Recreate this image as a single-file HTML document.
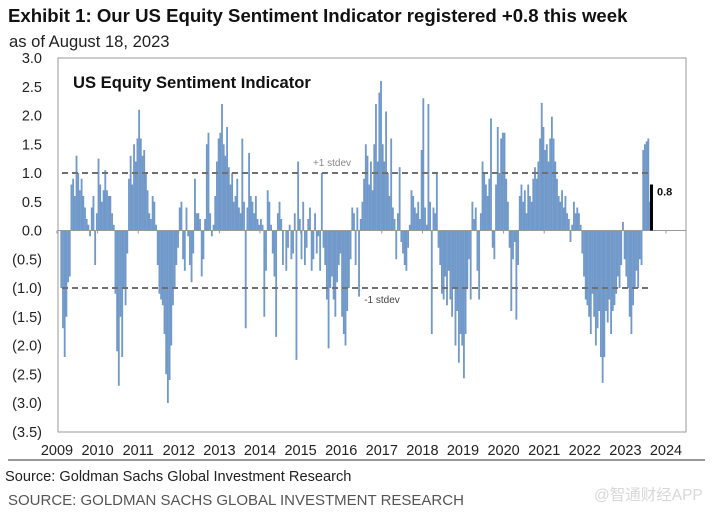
<!DOCTYPE html>
<html><head><meta charset="utf-8">
<style>
html,body{margin:0;padding:0;background:#fff;width:712px;height:513px;overflow:hidden}
svg{display:block;font-family:"Liberation Sans",Arial,sans-serif}
</style></head>
<body>
<svg id="chart" width="712" height="513" viewBox="0 0 712 513">
<text x="8" y="22" font-size="18.6" font-weight="bold" fill="#111">Exhibit 1: Our US Equity Sentiment Indicator registered +0.8 this week</text>
<text x="9" y="47" font-size="16.6" fill="#222">as of August 18, 2023</text>
<rect x="58" y="58" width="628" height="374" fill="#fff" stroke="#999" stroke-width="1"/>
<text x="73" y="88" font-size="16.6" font-weight="bold" fill="#111">US Equity Sentiment Indicator</text>
<g id="yticks"></g>
<g id="xticks"></g>
<g id="bars"></g>
<g id="refs"></g>
<line x1="8" y1="460" x2="705" y2="460" stroke="#999" stroke-width="2"/>
<text x="5" y="481" font-size="14.6" fill="#222">Source: Goldman Sachs Global Investment Research</text>
<text x="8" y="505" font-size="15" fill="#555">SOURCE: GOLDMAN SACHS GLOBAL INVESTMENT RESEARCH</text>
<text x="594" y="500" font-size="15.5" fill="#d8d8d8" font-family="'Liberation Sans','Noto Sans CJK SC',sans-serif">@智通财经APP</text>
</svg>
<script>
const yTickValues=[3,2.5,2,1.5,1,0.5,0,-0.5,-1,-1.5,-2,-2.5,-3,-3.5];
const yTickLabels=["3.0","2.5","2.0","1.5","1.0","0.5","0.0","(0.5)","(1.0)","(1.5)","(2.0)","(2.5)","(3.0)","(3.5)"];
const xYears=[2009,2010,2011,2012,2013,2014,2015,2016,2017,2018,2019,2020,2021,2022,2023,2024];
const v2009=[0,0,-1.0,-1.7,-2.2,-1.5,-0.9,-0.8,0.8,0.9,0.6,1.3,1.0,0.7,0.9,0.6,0.4,0.2,0.1,-0.1,0.4,0.6,-0.6,0.3];
const v2010=[1.25,0.8,0.5,0.7,1.05,0.7,0.6,0.6,0.3,0.1,-1.1,-2.1,-2.7,-1.5,-2.2,-1.0,-1.3,-0.4,0.9,1.3,0.8,1.5,1.2,1.6];
const v2011=[2.1,1.6,1.3,1.4,1.0,0.7,0.3,0.2,0.6,0.5,0.1,-0.6,-1.1,-1.2,-1.3,-1.8,-2.5,-3.0,-2.6,-2.0,-1.3,-1.0,-0.6,-0.3];
const v2012=[0.4,0.5,-0.5,-0.7,0.4,-0.1,-0.6,-0.9,-0.4,0.9,0.3,0.3,0.2,-0.8,-0.5,0.2,1.5,1.7,0.3,-0.1,0.1,0.6,1.2,1.6];
const v2013=[1.7,2.2,1.5,1.3,1.8,1.1,0.8,1.0,0.5,0.6,0.9,0.4,0.3,1.6,0.5,-1.7,0.4,1.35,0.6,0.5,0.3,0.6,0.2,0.1];
const v2014=[0.2,0.1,-1.5,-0.7,0.7,0.5,0.1,-0.4,-0.8,-1.85,0.3,0.5,0.2,-0.6,0.0,-0.7,-0.3,0.1,-0.5,-0.4,0.3,-2.25,1.2,0.2];
const v2015=[-0.5,0.5,-0.6,-0.3,0.2,0.4,-0.7,-0.5,0.3,-0.4,-0.1,-0.7,1.0,-0.3,-0.6,-1.2,-2.05,-1.0,-0.8,-1.2,-1.5,-0.9,-0.6,-0.4];
const v2016=[-1.5,-1.8,-2.0,-1.4,-1.0,-0.5,0.4,0.3,-0.6,0.4,-1.15,0.2,0.5,0.9,1.5,1.3,0.8,1.2,0.7,1.5,2.2,1.2,2.4,2.6];
const v2017=[1.5,1.2,2.07,1.0,0.6,1.6,0.4,0.2,-0.5,0.3,1.1,-0.2,-0.4,-0.6,-0.7,-0.3,0.1,0.7,0.6,0.4,0.3,0.5,0.2,1.4];
const v2018=[2.3,0.4,0.1,2.2,0.5,-1.8,0.4,0.3,1.0,-0.3,-0.6,-1.1,-1.2,-0.8,-1.3,-0.7,-1.2,-1.5,-1.0,-2.0,-1.4,-2.3,-1.8,-2.0];
const v2019=[-2.57,-1.8,-1.0,-0.5,-1.2,0.5,0.2,0.4,-0.7,-1.2,0.3,1.2,1.0,0.8,0.6,0.9,1.95,-0.3,-0.5,0.8,1.8,1.0,1.6,1.7];
const v2020=[1.7,0.9,0.5,-0.3,-1.4,-0.5,-0.2,-1.55,-0.6,0.6,0.8,0.5,0.7,0.3,0.8,0.6,0.5,0.9,1.1,0.9,1.2,1.6,2.22,1.8];
const v2021=[1.4,1.5,1.2,1.6,1.98,1.6,1.2,0.9,0.6,0.5,0.7,0.4,0.6,0.3,0.2,-0.2,0.1,0.5,0.3,0.4,0.3,0.1,-0.4,-0.8];
const v2022=[-1.2,-1.3,-1.5,-1.8,-1.1,-1.5,-2.0,-1.7,-1.4,-2.2,-2.65,-2.2,-1.4,-1.6,-1.2,-1.8,-1.4,-1.3,-1.1,-0.8,-1.0,-0.6,0.15,-0.5];
const v2023=[-0.8,-1.0,-1.5,-1.8,-1.3,-1.0,-0.7,-1.0,-0.5,-0.6,1.4,1.5,1.55,1.6,0.5];
const seriesYears=[2009,2010,2011,2012,2013,2014,2015,2016,2017,2018,2019,2020,2021,2022,2023];
const seriesValues=[v2009,v2010,v2011,v2012,v2013,v2014,v2015,v2016,v2017,v2018,v2019,v2020,v2021,v2022,v2023];
const latestValue=[0.8];
const latestDate=[2023.63];
const stdevLevels=[1,-1];
const stdevLabels=["+1 stdev","-1 stdev"];

const NS="http://www.w3.org/2000/svg";
const X0=57,PX_YEAR=40.6,Y0=230.5,PX_UNIT=57.5;
function xs(t){return X0+(t-2009)*PX_YEAR;}
function ys(v){return Y0-v*PX_UNIT;}
function mk(tag,attrs,parent){const e=document.createElementNS(NS,tag);for(const k in attrs)e.setAttribute(k,attrs[k]);parent.appendChild(e);return e;}

const yg=document.getElementById('yticks');
yTickValues.forEach((v,i)=>{
  const t=mk('text',{x:42,y:ys(v)+5,'font-size':14.5,'text-anchor':'end',fill:'#222'},yg);
  t.textContent=yTickLabels[i];
  
  
});
const xg=document.getElementById('xticks');
xYears.forEach(yr=>{
  const t=mk('text',{x:xs(yr),y:455,'font-size':14.5,'text-anchor':'middle',fill:'#222'},xg);
  t.textContent=String(yr);
  
  
});

const bg=document.getElementById('bars');
const step=1/24,bw=PX_YEAR/24+0.15;
seriesYears.forEach((yr,si)=>{
  seriesValues[si].forEach((v,i)=>{
    if(v===0)return;
    const x=xs(yr+i*step);
    const y1=ys(Math.max(v,0)),y2=ys(Math.min(v,0));
    const r=mk('rect',{x:x.toFixed(2),y:y1.toFixed(2),width:bw.toFixed(2),height:(y2-y1).toFixed(2),fill:'#7199c9'},bg);
    
    
  });
});

const rg=document.getElementById('refs');
const zl=mk('line',{x1:58,y1:ys(0),x2:686,y2:ys(0),stroke:'#999','stroke-width':1},rg);


xYears.forEach(yr=>{
  const tk=mk('line',{x1:xs(yr),y1:ys(0),x2:xs(yr),y2:ys(0)+3,stroke:'#999','stroke-width':1},rg);
  
  
});
stdevLevels.forEach((lv,i)=>{
  const l=mk('line',{x1:62,y1:ys(lv),x2:651,y2:ys(lv),stroke:'#707070','stroke-width':2,'stroke-dasharray':'6,4'},rg);
  
  
  const t=mk('text',{x:lv>0?332:382,y:lv>0?ys(lv)-7:ys(lv)+15,'font-size':10,'text-anchor':'middle',fill:lv>0?'#888':'#444'},rg);
  t.textContent=stdevLabels[i];
  
  
});
const lb=mk('rect',{x:xs(latestDate[0])-1,y:ys(latestValue[0]),width:3,height:ys(0)-ys(latestValue[0]),fill:'#000'},rg);


const lt=mk('text',{x:xs(latestDate[0])+6,y:ys(latestValue[0])+11,'font-size':11,'font-weight':'bold',fill:'#111'},rg);
lt.textContent=latestValue[0].toFixed(1);


</script>
</body></html>
